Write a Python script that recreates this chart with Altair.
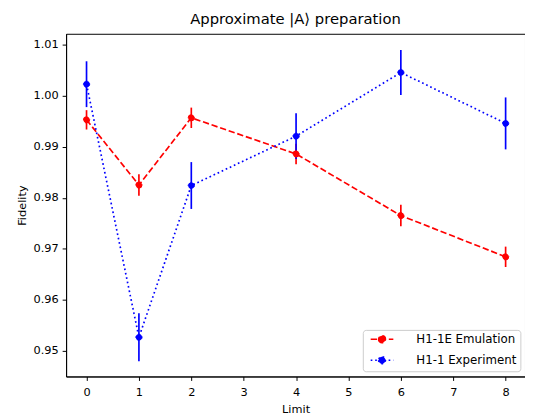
import altair as alt
import pandas as pd

limits = [0, 1, 2, 4, 6, 8]
emu_fid = [0.9953, 0.9825, 0.9957, 0.9886, 0.9765, 0.9684]
emu_err = [0.0019, 0.0021, 0.0020, 0.0020, 0.0021, 0.0020]
exp_fid = [1.0023, 0.9526, 0.9824, 0.9921, 1.0046, 0.9946]
exp_err = [0.0045, 0.0047, 0.0046, 0.0045, 0.0044, 0.0051]
series_names = ["H1-1E Emulation", "H1-1 Experiment"]
series_colors = ["#ff0000", "#0000ff"]
series_dashes = [[6.4, 2.8], [1.7, 2.85]]

rows = []
for name, col, fids, errs in [
    (series_names[0], series_colors[0], emu_fid, emu_err),
    (series_names[1], series_colors[1], exp_fid, exp_err),
]:
    for x, f, e in zip(limits, fids, errs):
        rows.append({"limit": x, "fid": f, "lo": f - e, "hi": f + e,
                     "series": name, "col": col})
df = pd.DataFrame(rows)

FONT = "DejaVu Sans"
xscale = alt.Scale(domain=[-0.39, 8.37], nice=False, zero=False)
yscale = alt.Scale(domain=[0.9449, 1.0122], nice=False, zero=False)

x_enc = alt.X("limit:Q", scale=xscale,
              axis=alt.Axis(title="Limit", values=list(range(0, 9)), format="d",
                            labelPadding=6, titlePadding=6.5))
y_enc = alt.Y("fid:Q", scale=yscale,
              axis=alt.Axis(title="Fidelity",
                            values=[0.95, 0.96, 0.97, 0.98, 0.99, 1.00, 1.01],
                            format=".2f", labelPadding=4, titlePadding=6))

base = alt.Chart(df)

line_layers = []
for name, col, dash in zip(series_names, series_colors, series_dashes):
    line_layers.append(
        base.transform_filter(alt.datum.series == name)
        .mark_line(color=col, strokeDash=dash, strokeWidth=1.7, strokeCap="butt")
        .encode(x=x_enc, y=y_enc)
    )

errbars = base.mark_rule(strokeWidth=1.7).encode(
    x=alt.X("limit:Q", scale=xscale),
    y=alt.Y("lo:Q", scale=yscale),
    y2="hi:Q",
    color=alt.Color("col:N", scale=None),
)

legend_path = ("M-2.3,0L2.3,0M-0.69,0A0.69,0.69,0,1,0,0.69,0"
               "A0.69,0.69,0,1,0,-0.69,0Z")
leg = alt.Legend(
    title=None, orient="none", legendX=301.3, legendY=300.7,
    padding=3.5, rowPadding=7.3, symbolType=legend_path, symbolSize=100,
    symbolOffset=10, labelOffset=28.8, symbolStrokeWidth=1.7,
    labelFont=FONT, labelFontSize=12, labelColor="black",
    strokeColor="#cccccc", fillColor="white", cornerRadius=3,
)

points = base.mark_point(filled=True, size=40, strokeWidth=1, opacity=1).encode(
    x=x_enc, y=y_enc,
    fill=alt.Fill("series:N", scale=alt.Scale(domain=series_names, range=series_colors), legend=leg),
    stroke=alt.Stroke("series:N", scale=alt.Scale(domain=series_names, range=series_colors), legend=leg),
    strokeDash=alt.StrokeDash("series:N", scale=alt.Scale(domain=series_names, range=series_dashes), legend=leg),
)

chart = alt.layer(*line_layers, errbars, points).properties(
    width=466, height=348,
    title=alt.TitleParams("Approximate |A⟩ preparation", font=FONT, fontSize=15,
                          fontWeight="normal", color="black", offset=7, anchor="middle"),
    autosize=alt.AutoSizeParams(type="none"),
    padding={"left": 59, "top": 23, "right": 0, "bottom": 40},
).configure_view(stroke="black", strokeWidth=1).configure_axis(
    grid=False, domainColor="black", domainWidth=1, tickColor="black", tickSize=4,
    tickWidth=1, labelFont=FONT, labelFontSize=11.5, labelColor="black",
    titleFont=FONT, titleFontSize=11.5, titleFontWeight="normal", titleColor="black",
)

chart.save("out.html", embed_options={"renderer": "svg", "actions": False})
